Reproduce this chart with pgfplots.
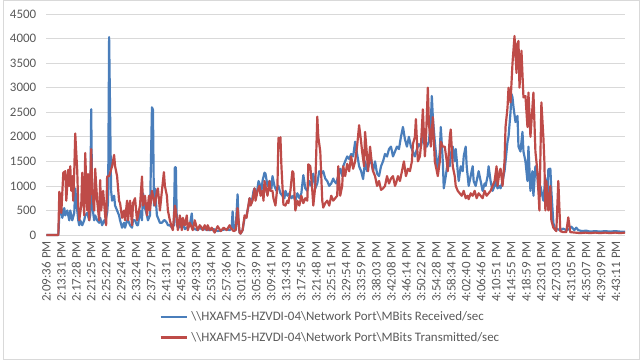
\documentclass[border=0pt]{standalone}
\usepackage{fontspec}
\setmainfont{Carlito}
\usepackage{pgfplots}
\pgfplotsset{compat=1.18}
\definecolor{serblue}{HTML}{4A7EBB}
\definecolor{serred}{HTML}{BE4B48}
\definecolor{gridgray}{HTML}{D9D9D9}
\definecolor{labelgray}{HTML}{595959}
\definecolor{bordergray}{HTML}{D9D9D9}
\begin{document}
\begin{tikzpicture}
\begin{axis}[
  width=581pt, height=222pt, scale only axis,
  xmin=44, xmax=625, ymin=0, ymax=4500,
  clip=false,
  axis line style={draw=none},
  major tick length=0pt,
  ytick={0,500,...,4500},
  ymajorgrids,
  grid style={draw=gridgray, line width=0.75pt},
  xtick={44,59.05263,...,617},
  xticklabels={2:09:36 PM,2:13:31 PM,2:17:28 PM,2:21:25 PM,2:25:22 PM,2:29:24 PM,2:33:24 PM,2:37:27 PM,2:41:31 PM,2:45:32 PM,2:49:33 PM,2:53:34 PM,2:57:36 PM,3:01:37 PM,3:05:39 PM,3:09:41 PM,3:13:43 PM,3:17:45 PM,3:21:48 PM,3:25:51 PM,3:29:54 PM,3:33:59 PM,3:38:03 PM,3:42:08 PM,3:46:14 PM,3:50:22 PM,3:54:28 PM,3:58:34 PM,4:02:40 PM,4:06:46 PM,4:10:51 PM,4:14:55 PM,4:18:59 PM,4:23:01 PM,4:27:03 PM,4:31:05 PM,4:35:07 PM,4:39:09 PM,4:43:11 PM},
  /pgf/number format/assume math mode=true,
  /pgf/number format/1000 sep={},
  scaled y ticks=false,
  tick label style={font=\fontsize{13}{15}\selectfont, text=labelgray},
  yticklabel style={anchor=east, inner ysep=0pt, inner xsep=10pt},
  xticklabel style={rotate=90, anchor=east, inner ysep=0pt, inner xsep=6pt},
  legend style={at={(axis description cs:0.195,-0.342)}, anchor=north west, draw=none, fill=none,
    font=\fontsize{13}{15}\selectfont, text=labelgray, inner sep=0pt,
    nodes={inner sep=1pt}, row sep=8pt, column sep=2pt},
  legend cell align=left,
  legend image code/.code={\draw[#1, line width=2.2pt, line cap=butt] (0pt,0pt) -- (27pt,0pt);},
  every axis plot/.append style={line width=2.2pt, line join=round, no markers},
]
\addplot[serblue] coordinates {(44,0)(56,0)(57,400)(59,550)(60,350)(62,550)(63,400)(65,500)(67,300)(68,500)(70,300)(72,450)(73,950)(75,500)(76,300)(77,200)(78,300)(80,200)(82,300)(83,400)(85,450)(87,300)(88,400)(89,2560)(90,600)(92,300)(93,400)(95,300)(97,250)(98,350)(100,200)(102,300)(103,250)(105,450)(106,700)(107,4030)(109,900)(110,700)(112,800)(113,600)(115,500)(117,400)(118,300)(120,150)(122,250)(123,150)(125,300)(126,300)(128,200)(130,150)(131,300)(133,300)(135,200)(136,200)(138,500)(140,300)(141,850)(143,550)(145,400)(146,300)(148,400)(150,2600)(151,2550)(152,600)(153,950)(155,400)(156,350)(158,250)(160,250)(162,300)(163,300)(165,250)(166,200)(168,200)(170,150)(172,200)(173,1380)(174,1380)(175,200)(177,150)(178,200)(180,150)(182,200)(183,120)(185,150)(186,150)(188,200)(190,440)(191,150)(193,120)(196,100)(198,150)(200,120)(203,120)(206,100)(208,100)(212,120)(216,80)(220,100)(224,120)(228,100)(230,150)(231,480)(232,150)(234,100)(236,830)(237,200)(238,50)(239,30)(241,100)(243,350)(245,400)(247,600)(248,750)(250,650)(252,900)(253,950)(255,800)(257,1100)(258,1050)(260,900)(261,1100)(263,1270)(264,1250)(266,1000)(268,1100)(270,950)(271,1200)(273,1000)(275,900)(277,1000)(279,850)(281,800)(283,750)(284,900)(286,800)(288,850)(290,750)(292,800)(294,700)(296,850)(298,750)(300,850)(302,1220)(304,950)(306,900)(308,1100)(310,1000)(312,1250)(314,950)(316,1050)(318,1300)(320,1250)(322,1300)(324,1150)(326,1100)(328,1000)(330,1050)(332,1150)(333,1100)(335,1050)(337,1200)(339,1350)(341,1200)(342,1400)(344,1500)(346,1600)(348,1550)(350,1650)(352,1600)(354,1900)(356,1650)(358,1400)(360,1300)(362,1140)(364,1500)(366,1300)(368,1450)(370,1550)(372,1300)(374,1500)(376,1250)(378,1200)(380,1400)(382,1500)(384,1650)(386,1600)(388,1750)(390,1800)(392,1600)(394,1700)(396,1800)(398,1750)(400,2000)(402,2200)(404,1950)(406,1800)(408,2000)(410,1800)(412,1700)(414,1600)(416,1750)(418,1850)(420,1800)(422,2000)(424,1900)(426,1800)(428,1900)(430,2300)(431,2830)(432,2400)(434,1900)(436,1500)(437,1300)(439,1700)(440,2200)(442,1500)(443,950)(445,1200)(447,1500)(449,1400)(450,1650)(452,1800)(454,1500)(455,1750)(457,1300)(458,1100)(460,1400)(462,1300)(463,1600)(465,1800)(466,1400)(468,1000)(470,1200)(472,1400)(473,1100)(475,1000)(477,1200)(478,1300)(480,1100)(482,900)(484,1050)(485,1000)(487,1200)(488,1400)(490,1100)(492,900)(494,1000)(495,1100)(497,950)(499,1000)(500,950)(502,1100)(504,1300)(505,1500)(507,1900)(508,2000)(510,2500)(511,2870)(512,2800)(513,2600)(515,2300)(517,2425)(518,1800)(520,1700)(522,2100)(523,1700)(525,1500)(527,1100)(528,1800)(530,900)(532,1300)(533,800)(535,1400)(537,1200)(538,900)(540,1000)(541,900)(543,700)(545,1170)(547,600)(548,1340)(550,1350)(551,900)(553,250)(555,100)(557,120)(560,100)(563,130)(566,100)(569,120)(571,170)(572,150)(574,100)(576,150)(578,100)(582,80)(586,90)(590,70)(595,80)(600,70)(605,80)(610,70)(615,80)(620,70)(625,70)};
\addlegendentry{\textbackslash\textbackslash HXAFM5-HZVDI-04\textbackslash Network Port\textbackslash MBits Received/sec}
\addplot[serred] coordinates {(44,0)(56,0)(57,880)(58,800)(59,450)(61,1270)(63,1300)(64,700)(66,1330)(67,1000)(68,1400)(69,900)(70,1200)(71,700)(72,1300)(73,2066)(75,1300)(76,600)(77,300)(79,600)(80,1270)(82,400)(83,1670)(85,500)(86,1240)(87,300)(89,1750)(90,900)(92,500)(93,1350)(95,700)(97,300)(98,1120)(99,500)(101,900)(103,400)(104,200)(105,1190)(107,1200)(110,1400)(112,1630)(113,1400)(115,1200)(117,700)(118,650)(120,350)(122,500)(123,300)(125,700)(126,300)(128,700)(130,200)(131,650)(133,750)(135,300)(136,400)(138,600)(140,1190)(141,600)(143,800)(145,400)(147,800)(148,500)(150,900)(151,800)(153,600)(155,900)(156,950)(158,500)(160,900)(162,1280)(163,1000)(165,800)(166,500)(168,300)(170,150)(171,100)(173,600)(174,500)(176,100)(178,400)(180,100)(181,350)(183,200)(185,400)(186,100)(188,250)(190,150)(191,100)(193,300)(195,150)(196,100)(198,200)(200,150)(201,100)(203,200)(205,100)(206,200)(208,100)(210,150)(213,50)(216,180)(219,80)(222,150)(225,100)(228,200)(229,150)(232,80)(234,100)(236,550)(238,50)(239,30)(241,100)(243,400)(245,350)(246,500)(248,750)(249,600)(251,700)(253,950)(254,700)(256,900)(258,1000)(259,800)(261,900)(262,700)(263,1100)(265,900)(266,800)(268,1100)(269,900)(271,900)(272,750)(274,600)(276,1000)(277,1980)(278,1800)(279,1990)(280,1400)(282,620)(284,600)(286,700)(287,650)(289,900)(291,1300)(292,1270)(294,500)(296,700)(298,600)(300,800)(302,650)(304,750)(306,700)(307,1440)(309,1400)(311,900)(312,600)(314,1000)(316,2410)(317,2000)(319,1700)(321,700)(322,560)(324,650)(326,700)(328,600)(330,800)(332,700)(334,750)(336,800)(337,1400)(339,800)(341,1000)(342,1400)(344,1200)(346,1450)(348,1300)(350,1600)(352,1350)(354,1500)(356,1815)(358,2235)(360,1900)(361,1700)(363,1400)(364,2100)(366,1600)(367,1300)(369,1800)(371,1400)(372,1300)(374,1200)(376,1000)(378,1100)(380,920)(382,950)(384,1000)(386,1200)(388,1050)(390,1150)(392,1200)(394,1000)(395,1050)(397,1200)(399,1100)(401,1300)(403,1500)(405,1200)(407,1350)(409,1300)(411,1500)(412,1850)(414,2000)(415,2360)(417,1500)(419,1600)(420,1800)(422,2560)(424,1600)(425,1900)(427,3000)(428,2300)(430,1800)(432,2400)(434,1500)(436,1300)(437,1200)(439,1500)(440,1900)(442,1800)(444,1800)(446,1500)(447,1300)(449,2000)(450,2150)(452,1400)(454,1200)(455,1000)(457,900)(459,850)(461,800)(463,900)(465,750)(467,800)(468,730)(470,850)(472,800)(474,900)(476,750)(478,850)(480,800)(482,750)(484,900)(486,800)(488,850)(490,900)(492,1000)(494,1100)(496,1400)(497,1000)(499,1300)(500,1350)(502,1000)(504,1500)(505,2200)(507,2600)(508,3000)(510,2700)(511,3100)(512,3500)(514,4050)(516,3300)(517,3900)(518,3950)(519,3000)(521,3750)(523,2800)(525,2830)(527,2200)(528,2900)(530,2000)(532,2600)(533,2900)(535,1700)(537,1300)(539,500)(541,2700)(543,1985)(544,1500)(545,500)(546,1100)(548,500)(550,1000)(551,300)(553,150)(556,80)(558,1100)(560,80)(563,60)(566,60)(568,360)(570,60)(575,50)(580,40)(585,50)(590,40)(595,50)(600,40)(605,50)(610,40)(615,50)(620,40)(625,50)};
\addlegendentry{\textbackslash\textbackslash HXAFM5-HZVDI-04\textbackslash Network Port\textbackslash MBits Transmitted/sec}
\draw[bordergray, line width=1pt] (rel axis cs:-0.07487,-0.56081) rectangle (rel axis cs:1.02496,1.06081);
\end{axis}
\end{tikzpicture}
\end{document}
